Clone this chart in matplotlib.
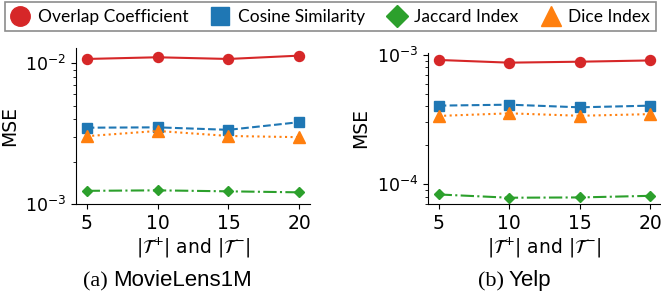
import numpy as np
import matplotlib
matplotlib.use("Agg")
import matplotlib.pyplot as plt
from matplotlib.lines import Line2D
from matplotlib.ticker import NullFormatter

# 横轴: |T+| 与 |T-| 的取值
sizes = [5, 10, 15, 20]

# MovieLens1M 的 MSE
ml_overlap = [1.07e-2, 1.10e-2, 1.07e-2, 1.13e-2]
ml_cosine = [3.48e-3, 3.50e-3, 3.36e-3, 3.81e-3]
ml_jaccard = [1.24e-3, 1.25e-3, 1.23e-3, 1.21e-3]
ml_dice = [3.03e-3, 3.30e-3, 3.04e-3, 2.98e-3]

# Yelp 的 MSE
yelp_overlap = [9.15e-4, 8.72e-4, 8.87e-4, 9.07e-4]
yelp_cosine = [4.05e-4, 4.12e-4, 3.93e-4, 4.05e-4]
yelp_jaccard = [8.3e-5, 7.83e-5, 7.87e-5, 8.1e-5]
yelp_dice = [3.37e-4, 3.53e-4, 3.38e-4, 3.48e-4]

names = ["Overlap Coefficient", "Cosine Similarity", "Jaccard Index", "Dice Index"]
colors = ["#d62728", "#1f77b4", "#2ca02c", "#ff7f0e"]
markers = ["o", "s", "D", "^"]
styles = ["-", "--", "-.", ":"]
msizes = [7.2, 7, 5.4, 8.2]

W, H = 661, 299
fig = plt.figure(figsize=(W / 100, H / 100), dpi=100)

def px_axes(x0, y0, x1, y1):
    return fig.add_axes([x0 / W, 1 - y1 / H, (x1 - x0) / W, (y1 - y0) / H])

ax1 = px_axes(76, 48, 310, 204)
ax2 = px_axes(428, 53, 661, 204)

panels = [
    (ax1, [ml_overlap, ml_cosine, ml_jaccard, ml_dice], (1e-3, 1.28e-2)),
    (ax2, [yelp_overlap, yelp_cosine, yelp_jaccard, yelp_dice], (7.0e-5, 1.036e-3)),
]

for ax, series, ylim in panels:
    for vals, c, m, ls, ms in zip(series, colors, markers, styles, msizes):
        ax.plot(sizes, vals, color=c, marker=m, linestyle=ls, linewidth=1.5,
                markersize=ms)
    ax.set_yscale("log")
    ax.set_ylim(*ylim)
    ax.set_xticks(sizes)
    ax.yaxis.set_minor_formatter(NullFormatter())
    ax.tick_params(axis="x", labelsize=13.5)
    ax.tick_params(axis="y", which="major", labelsize=12.5)
    ax.spines["top"].set_visible(False)
    ax.spines["right"].set_visible(False)
    ax.set_ylabel("MSE", fontsize=13.5)
    ax.set_xlabel(r"$|\mathcal{T}^{+}|$ and $|\mathcal{T}^{-}|$", fontsize=13.5,
                  labelpad=2)

ax1.yaxis.set_label_coords(-0.245, 0.5)
ax2.yaxis.set_label_coords(-0.25, 0.5)

# 图例
handles = [Line2D([], [], color=c, marker=m, linestyle="None", markersize=s)
           for c, m, s in zip(colors, markers, [14, 13, 11, 15])]
leg = fig.legend(handles, names, loc="upper left", ncol=4,
                 bbox_to_anchor=(5 / W, 1 - 2 / H),
                 prop={"family": "Lato", "size": 12.5}, frameon=True,
                 fancybox=False, edgecolor="#707070", borderpad=0.38,
                 handlelength=1.0, handletextpad=0.5, columnspacing=1.35,
                 borderaxespad=0)
leg.get_frame().set_linewidth(1.2)

# 子图标题
cap_y = 1 - 286 / H
fig.text(108 / W, cap_y, "(a)", family="Liberation Serif", fontsize=16,
         ha="right", va="baseline")
fig.text(113 / W, cap_y, "MovieLens1M", family="Liberation Sans", fontsize=16,
         ha="left", va="baseline")
fig.text(504 / W, cap_y, "(b)", family="Liberation Serif", fontsize=16,
         ha="right", va="baseline")
fig.text(509 / W, cap_y, "Yelp", family="Liberation Sans", fontsize=16,
         ha="left", va="baseline")

fig.savefig("out.png", dpi=100)
